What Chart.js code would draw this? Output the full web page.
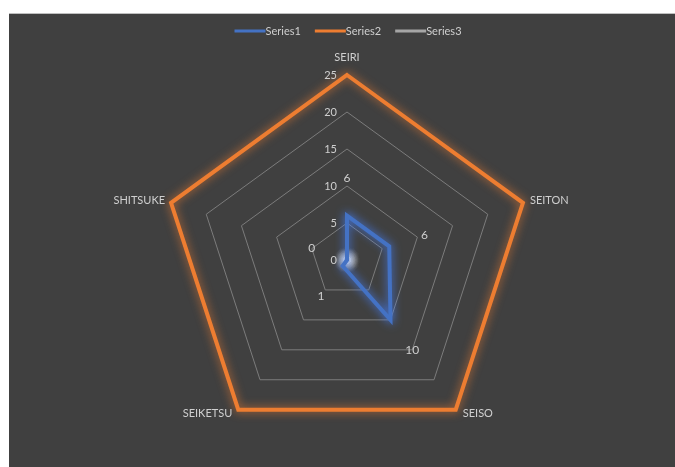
<!DOCTYPE html>
<html>
<head>
<meta charset="utf-8">
<script src="https://cdn.jsdelivr.net/npm/chart.js@4/dist/chart.umd.min.js"></script>
<style>
  html, body { margin: 0; padding: 0; background: #ffffff; }
  #wrap { position: absolute; left: 9px; top: 13px; width: 666px; height: 454px; background: #404040; border-top: 1px solid #bfbfbf; box-sizing: border-box; }
  canvas { display: block; }
</style>
</head>
<body>
<div id="wrap"><canvas id="radar" width="666" height="453"></canvas></div>
<script>
// ── Data ──────────────────────────────────────────────
const categories = ['SEIRI', 'SEITON', 'SEISO', 'SEIKETSU', 'SHITSUKE'];
const series1 = [6, 6, 10, 1, 0];
const series2 = [25, 25, 25, 25, 25];
const series3 = [0, 0, 0, 0, 0];
const seriesNames = ['Series1', 'Series2', 'Series3'];
const tickValues = [0, 5, 10, 15, 20, 25];

const COLORS = {
  s1: '#4472c4', s1Glow: 'rgba(70,130,255,1)',
  s2: '#ed7d31', s2Glow: 'rgba(237,125,49,0.85)',
  s3: '#a5a5a5', s3Glow: 'rgba(235,235,235,1)',
  text: '#cfcfcf', grid: '#7c7c7c'
};
const FONT = 'Lato, "Open Sans", sans-serif';

// ── Glow behind each series line ──────────────────────
const glowPlugin = {
  id: 'glow',
  beforeDatasetDraw(chart, args) {
    const ds = chart.data.datasets[args.index];
    chart.ctx.save();
    chart.ctx.shadowColor = ds.glow;
    chart.ctx.shadowBlur = 10;
  },
  afterDatasetDraw(chart) { chart.ctx.restore(); }
};

// ── Legend, axis labels, tick labels and value labels ─
const labelsPlugin = {
  id: 'labels',
  afterDraw(chart) {
    const ctx = chart.ctx;
    const s = chart.scales.r;
    ctx.save();
    ctx.fillStyle = COLORS.text;
    ctx.font = '11px ' + FONT;

    // tick labels along the vertical axis
    ctx.textAlign = 'right';
    ctx.textBaseline = 'middle';
    tickValues.forEach(v => {
      ctx.fillText(String(v), s.xCenter - 10, s.yCenter - s.getDistanceFromCenterForValue(v));
    });

    // category names at each vertex
    const rMax = s.getDistanceFromCenterForValue(s.max);
    categories.forEach((c, i) => {
      const p = s.getPointPosition(i, rMax);
      const cos = Math.cos(p.angle), sin = Math.sin(p.angle);
      if (Math.abs(cos) < 0.1) {
        ctx.textAlign = 'center';
        ctx.fillText(c, p.x, p.y - 18);
      } else {
        ctx.textAlign = cos > 0 ? 'left' : 'right';
        ctx.fillText(c, p.x + (cos > 0 ? 7 : -6), p.y + (sin > 0 ? 4 : -2));
      }
    });

    // value labels for Series1
    ctx.font = '12px ' + FONT;
    ctx.textAlign = 'center';
    series1.forEach((v, i) => {
      const p = s.getPointPosition(i, s.getDistanceFromCenterForValue(v) + 37);
      ctx.fillText(String(v), p.x, p.y);
    });

    // legend
    const colors = [COLORS.s1, COLORS.s2, COLORS.s3];
    ctx.font = '11px ' + FONT;
    ctx.textAlign = 'left';
    const sw = 31, gap = 14;
    const widths = seriesNames.map(n => sw + ctx.measureText(n).width);
    const total = widths.reduce((a, b) => a + b, 0) + gap * (seriesNames.length - 1);
    let x = s.xCenter + 1 - total / 2;
    const y = 17;
    seriesNames.forEach((n, i) => {
      ctx.fillStyle = colors[i];
      ctx.fillRect(x, y - 1.5, sw, 3);
      ctx.fillStyle = COLORS.text;
      ctx.fillText(n, x + sw, y);
      x += widths[i] + gap;
    });
    ctx.restore();
  }
};

new Chart(document.getElementById('radar'), {
  type: 'radar',
  data: {
    labels: categories,
    datasets: [
      { label: seriesNames[0], data: series1, borderColor: COLORS.s1, glow: COLORS.s1Glow,
        borderWidth: 4, pointRadius: 0, fill: false, borderJoinStyle: 'miter' },
      { label: seriesNames[1], data: series2, borderColor: COLORS.s2, glow: COLORS.s2Glow,
        borderWidth: 4, pointRadius: 0, fill: false, borderJoinStyle: 'miter' },
      { label: seriesNames[2], data: series3, borderColor: '#d0d0d0', glow: COLORS.s3Glow,
        backgroundColor: '#d0d0d0', borderWidth: 2, pointRadius: 2.5, fill: false }
    ]
  },
  options: {
    responsive: false,
    animation: false,
    layout: { padding: { top: 61, bottom: 22, left: 153, right: 143 } },
    plugins: { legend: { display: false }, tooltip: { enabled: false } },
    scales: {
      r: {
        min: 0, max: 25,
        ticks: { stepSize: 5, display: false },
        grid: { color: COLORS.grid, lineWidth: 1 },
        angleLines: { display: false },
        pointLabels: { display: false }
      }
    }
  },
  plugins: [glowPlugin, labelsPlugin]
});
</script>
</body>
</html>
